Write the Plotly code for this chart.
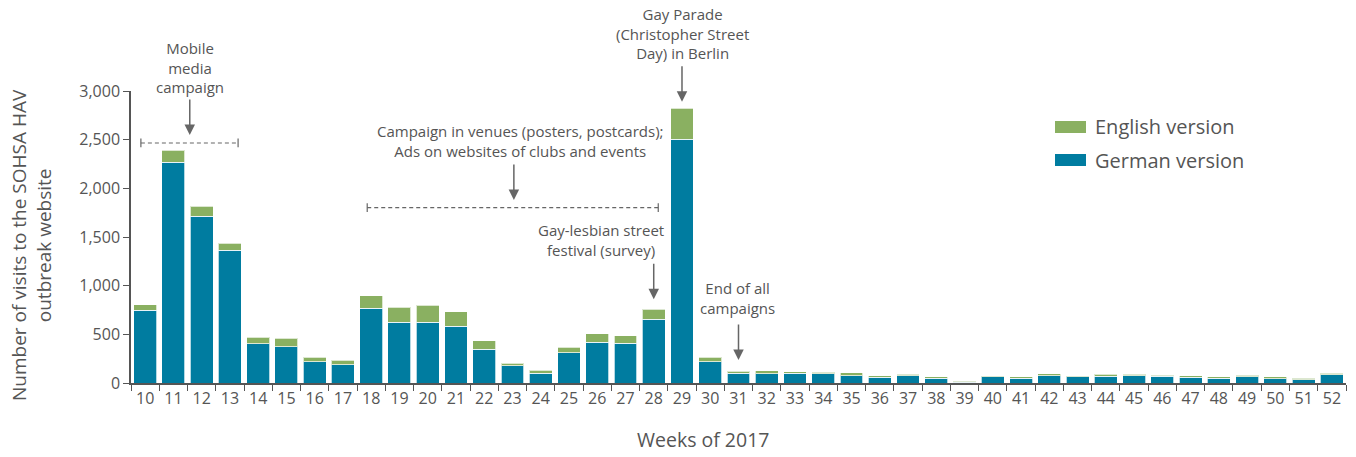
import plotly.graph_objects as go

weeks = list(range(10, 53))
german = [750, 2270, 1712, 1363, 401, 370, 216, 185,
          770, 623, 626, 585, 349, 178, 100, 312, 421, 411, 654,
          2503, 216, 99, 94, 99, 96, 72, 58, 75, 48, 10, 65, 51,
          75, 65, 68, 72, 68, 58, 48, 62, 44, 34, 86]
total = [805, 2393, 1815, 1435, 469, 459, 264, 233,
         898, 780, 798, 733, 435, 202, 130, 367, 507, 483, 757,
         2821, 264, 120, 125, 115, 113, 103, 75, 92, 65, 17, 75, 65,
         96, 75, 89, 92, 82, 72, 65, 79, 65, 51, 99]
english = [t - g for t, g in zip(total, german)]

y_ticks = [0, 500, 1000, 1500, 2000, 2500, 3000]

BLUE = "#007ca0"
GREEN = "#8ab061"
TXT = "#555555"
FONT = "Open Sans"

fig = go.Figure()
fig.add_trace(go.Bar(x=weeks, y=german, name="German version", marker_color=BLUE,
                     marker_line=dict(color="rgba(255,255,255,0.7)", width=1)))
fig.add_trace(go.Bar(x=weeks, y=english, name="English version", marker_color=GREEN,
                     marker_line=dict(color="rgba(255,255,255,0.7)", width=1)))

fig.update_layout(
    barmode="stack", bargap=0.19, showlegend=False,
    width=1356, height=457,
    margin=dict(l=131, r=10, t=91, b=74),
    plot_bgcolor="white", paper_bgcolor="white",
    font=dict(family=FONT, color=TXT, size=15),
)
fig.update_xaxes(range=[9.5, 52.5], tickmode="array", tickvals=weeks,
                 ticktext=[str(w) for w in weeks], ticks="",
                 showline=True, linecolor=TXT, linewidth=1.5, showgrid=False,
                 tickfont=dict(size=16, color=TXT),
                 minor=dict(tickmode="linear", tick0=9.5, dtick=1, ticks="outside",
                            ticklen=6, tickcolor=TXT, tickwidth=1.2, showgrid=False))
fig.update_yaxes(range=[0, 3000], tickmode="array", tickvals=y_ticks, tickformat=",",
                 ticks="outside", ticklen=6, tickcolor=TXT, tickwidth=1.2,
                 showline=True, linecolor=TXT, linewidth=1.5, showgrid=False, zeroline=False,
                 tickfont=dict(size=16, color=TXT))

ARROW = "#666666"
# arrows (tip x in weeks, tip y in data units)
for xw, yv in [(11.58, 2548), (23.05, 1880), (29.0, 2890), (28.0, 860), (31.0, 236)]:
    fig.add_annotation(x=xw, y=yv, xref="x", yref="y", text="", showarrow=True,
                       ax=0, ay=-37, arrowhead=2, arrowsize=1.4, arrowwidth=1.5,
                       arrowcolor=ARROW)

# bracket lines
for x0, x1, yv in [(9.85, 13.29, 2466), (17.86, 28.16, 1801)]:
    fig.add_shape(type="line", x0=x0, x1=x1, y0=yv, y1=yv, xref="x", yref="y",
                  line=dict(color=ARROW, width=1.2, dash="4px,3px"))
    for xe in (x0, x1):
        fig.add_shape(type="line", x0=xe, x1=xe, y0=yv - 45, y1=yv + 45, xref="x", yref="y",
                      line=dict(color=ARROW, width=1.2))

texts = [
    (11.59, 1.0795, "Mobile<br>media<br>campaign"),
    (23.3, 0.8288, "Campaign in venues (posters, postcards);<br>Ads on websites of clubs and events"),
    (29.03, 1.1976, "Gay Parade<br>(Christopher Street<br>Day) in Berlin"),
    (26.13, 0.4908, "Gay-lesbian street<br>festival (survey)"),
    (30.95, 0.29, "End of all<br>campaigns"),
]
for xw, yp, t in texts:
    fig.add_annotation(x=xw, y=yp, xref="x", yref="paper", text=t, showarrow=False,
                       xanchor="center", yanchor="middle", align="center",
                       font=dict(size=15, color=TXT))

# legend
for (y0, y1, col, label, yt) in [(0.8562, 0.8973, GREEN, "English version", 0.8777),
                                  (0.7432, 0.7842, BLUE, "German version", 0.7613)]:
    fig.add_shape(type="rect", xref="paper", yref="paper", x0=0.7605, x1=0.786,
                  y0=y0, y1=y1, fillcolor=col, line=dict(width=0))
    fig.add_annotation(x=0.7918, y=yt, xref="paper", yref="paper", text=label,
                       showarrow=False, xanchor="left", yanchor="middle",
                       font=dict(size=20, color=TXT))

# axis titles
fig.add_annotation(x=-0.0823, y=0.4726, xref="paper", yref="paper",
                   text="Number of visits to the SOHSA HAV<br>outbreak website",
                   textangle=-90, showarrow=False, xanchor="center", yanchor="middle",
                   font=dict(size=19, color=TXT))
fig.add_annotation(x=0.4708, y=-0.195, xref="paper", yref="paper",
                   text="Weeks of 2017", showarrow=False, xanchor="center", yanchor="middle",
                   font=dict(size=19.5, color=TXT))

fig.write_html("out.html", config={"displayModeBar": False},
               post_script="document.body.style.margin='0';")
